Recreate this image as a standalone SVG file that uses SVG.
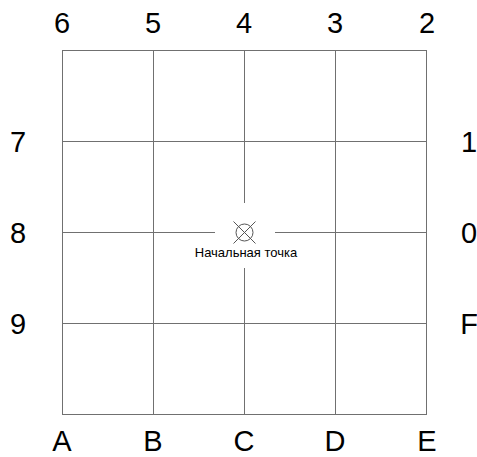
<svg xmlns="http://www.w3.org/2000/svg" width="477" height="457" viewBox="0 0 477 457">
<style>
.g{stroke:#707070;stroke-width:1;fill:none}
.lbl{font-family:"Liberation Sans",Arial,sans-serif;font-size:29px;fill:#000;text-anchor:middle}
.sm{font-family:"Liberation Sans",Arial,sans-serif;font-size:13px;fill:#000;text-anchor:middle}
.m{stroke:#555;stroke-width:1;fill:none}
</style>
<rect width="477" height="457" fill="#fff"/>
<g id="grid" class="g">
<rect x="62.5" y="50.5" width="364" height="364"/>
<line x1="153.5" y1="50.5" x2="153.5" y2="414.5"/>
<line x1="335.5" y1="50.5" x2="335.5" y2="414.5"/>
<line x1="244.5" y1="50.5" x2="244.5" y2="203"/>
<line x1="244.5" y1="268" x2="244.5" y2="414.5"/>
<line x1="62.5" y1="141.5" x2="426.5" y2="141.5"/>
<line x1="62.5" y1="323.5" x2="426.5" y2="323.5"/>
<line x1="62.5" y1="232.5" x2="215" y2="232.5"/>
<line x1="275" y1="232.5" x2="426.5" y2="232.5"/>
</g>
<g id="start">
<circle class="m" cx="244.5" cy="232.5" r="8.5"/>
<line class="m" x1="233.5" y1="221.5" x2="255.5" y2="243.5"/>
<line class="m" x1="255.5" y1="221.5" x2="233.5" y2="243.5"/>
<text class="sm" x="246" y="257">Начальная точка</text>
</g>
<g id="top-labels">
<text class="lbl" x="62" y="33">6</text>
<text class="lbl" x="153" y="33">5</text>
<text class="lbl" x="244" y="33">4</text>
<text class="lbl" x="335" y="33">3</text>
<text class="lbl" x="427" y="33">2</text>
</g>
<g id="left-labels">
<text class="lbl" x="18" y="152">7</text>
<text class="lbl" x="18" y="243">8</text>
<text class="lbl" x="18" y="334">9</text>
</g>
<g id="right-labels">
<text class="lbl" x="469" y="152">1</text>
<text class="lbl" x="469" y="243">0</text>
<text class="lbl" x="469" y="334">F</text>
</g>
<g id="bottom-labels">
<text class="lbl" x="62" y="451">A</text>
<text class="lbl" x="153" y="451">B</text>
<text class="lbl" x="244" y="451">C</text>
<text class="lbl" x="335" y="451">D</text>
<text class="lbl" x="427" y="451">E</text>
</g>
</svg>
